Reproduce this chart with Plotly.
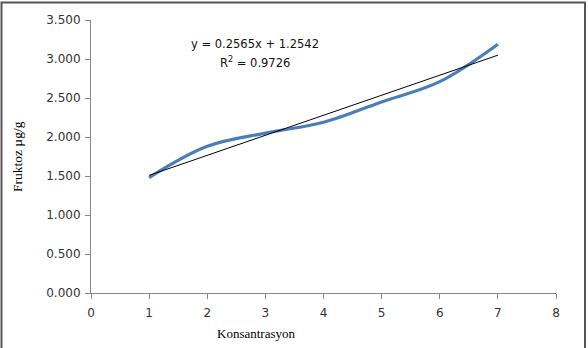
import numpy as np
import plotly.graph_objects as go

konsantrasyon = [1, 2, 3, 4, 5, 6, 7]
fruktoz = [1.48, 1.88, 2.05, 2.19, 2.45, 2.71, 3.19]
y_ticks = [0, 0.5, 1.0, 1.5, 2.0, 2.5, 3.0, 3.5]
x_ticks = [0, 1, 2, 3, 4, 5, 6, 7, 8]
equation_text = "y = 0.2565x + 1.2542"
r2_text = "R<sup>2</sup> = 0.9726"

slope, intercept = np.polyfit(konsantrasyon, fruktoz, 1)
trend_x = [konsantrasyon[0], konsantrasyon[-1]]
trend_y = [slope * v + intercept for v in trend_x]

fig = go.Figure()
fig.add_trace(go.Scatter(
    x=konsantrasyon, y=fruktoz, mode="lines",
    line=dict(color="#4a7ebb", width=3.2, shape="spline", smoothing=1.0),
    showlegend=False, hoverinfo="skip"))
fig.add_trace(go.Scatter(
    x=trend_x, y=trend_y, mode="lines",
    line=dict(color="#000000", width=1),
    showlegend=False, hoverinfo="skip"))

tick_font = dict(family="DejaVu Sans, sans-serif", size=12, color="#333333")
eq_font = dict(family="DejaVu Sans, sans-serif", size=11.5, color="#111111")

fig.update_layout(
    width=588, height=348,
    margin=dict(l=91, r=32, t=20, b=55),
    paper_bgcolor="white", plot_bgcolor="white",
    xaxis=dict(range=[0, 8], tickvals=x_ticks, ticks="outside", ticklen=5,
               tickcolor="#868686", showline=True, linecolor="#868686", linewidth=1,
               showgrid=False, zeroline=False, tickfont=tick_font, ticklabelstandoff=4),
    yaxis=dict(range=[0, 3.5], tickvals=y_ticks, tickformat=".3f", ticks="outside",
               ticklen=5, tickcolor="#868686", showline=True, linecolor="#868686",
               linewidth=1, showgrid=False, zeroline=False, tickfont=tick_font,
               ticklabelstandoff=2),
    annotations=[
        dict(x=(255 - 91) / 465, y=(293 - 44) / 273, xref="paper", yref="paper",
             text=equation_text, showarrow=False, xanchor="center", yanchor="middle",
             font=eq_font),
        dict(x=(255 - 91) / 465, y=(293 - 62) / 273, xref="paper", yref="paper",
             text=r2_text, showarrow=False, xanchor="center", yanchor="middle",
             font=eq_font),
        dict(x=(256 - 91) / 465, y=(293 - 333) / 273, xref="paper", yref="paper",
             text="Konsantrasyon", showarrow=False, xanchor="center", yanchor="middle",
             font=dict(family="Liberation Serif, Times New Roman, serif", size=13, color="#000")),
        dict(x=(17 - 91) / 465, y=(293 - 157) / 273, xref="paper", yref="paper",
             text="Fruktoz µg/g", showarrow=False, xanchor="center", yanchor="middle",
             textangle=-90,
             font=dict(family="Liberation Serif, Times New Roman, serif", size=13.5, color="#000")),
    ],
    shapes=[
        dict(type="rect", xref="paper", yref="paper",
             x0=(1.5 - 91) / 465, x1=(585 - 91) / 465,
             y0=(293 - 360) / 273, y1=(293 - 2.5) / 273,
             line=dict(color="#555555", width=2), fillcolor="rgba(0,0,0,0)", layer="above"),
    ],
)

fig.write_html("out.html")
